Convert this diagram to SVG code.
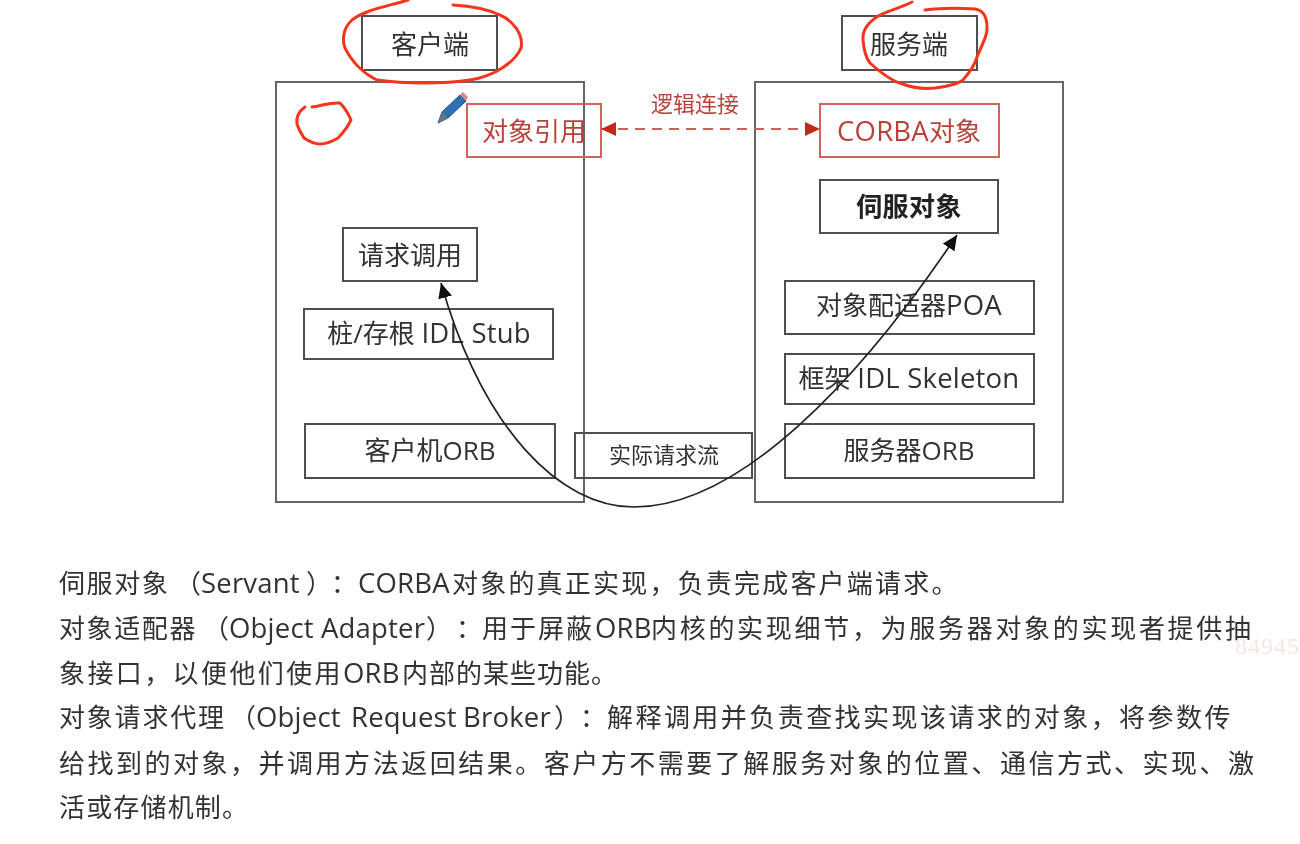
<svg xmlns="http://www.w3.org/2000/svg" width="1300" height="844" viewBox="0 0 1300 844">
<style>
text{font-family:"Open Sans","Noto Sans CJK SC",sans-serif;fill:#333;font-size:26px}
.c{text-anchor:middle}
.w{letter-spacing:.4px}
.l{font-size:27.5px;letter-spacing:.2px}
.b{fill:#fff;fill-opacity:0;stroke:#505050;stroke-width:2}
.o{fill:none;stroke:#666;stroke-width:2}
.r{fill:none;stroke:#d2625c;stroke-width:2}
.rt{fill:#b8433b}
.ink{fill:none;stroke:#f2361f;stroke-width:3;stroke-linecap:round;stroke-linejoin:round}
.sm{font-size:22px}
</style>
<defs>
<filter id="soft" x="0" y="0" width="100%" height="100%"><feGaussianBlur stdDeviation="0.5"/></filter>
<marker id="ra" markerWidth="16" markerHeight="14" refX="15" refY="7" orient="auto-start-reverse" markerUnits="userSpaceOnUse"><path d="M0 0L15 7L0 14z" fill="#c0291c"/></marker>
<marker id="ka" markerWidth="16" markerHeight="14" refX="15" refY="7" orient="auto" markerUnits="userSpaceOnUse"><path d="M0 0L15 7L0 14z" fill="#111"/></marker>
</defs>
<rect width="1300" height="844" fill="#fff"/>
<g filter="url(#soft)">
<g id="client-outer"><rect class="o" x="276" y="82" width="308" height="420"/></g>
<g id="server-outer"><rect class="o" x="755" y="82" width="308" height="420"/></g>
<g id="client-title"><rect class="b" x="362" y="16" width="135" height="54"/><text class="c" x="430" y="54">客户端</text></g>
<g id="server-title"><rect class="b" x="842" y="16" width="135" height="54"/><text class="c" x="909" y="54">服务端</text></g>
<g id="object-ref"><rect class="r" x="467" y="104" width="134" height="53"/><text class="c rt" x="534" y="141">对象引用</text></g>
<g id="corba-object"><rect class="r" x="820" y="104" width="179" height="53"/><text class="c rt" x="909" y="141"><tspan class="l">CORBA</tspan>对象</text></g>
<g id="servant"><rect class="b" x="820" y="180" width="178" height="53"/><text class="c w" x="909" y="216" font-weight="700" style="fill:#222">伺服对象</text></g>
<g id="request-call"><rect class="b" x="343" y="228" width="134" height="53"/><text class="c" x="410" y="265">请求调用</text></g>
<g id="stub"><rect class="b" x="304" y="309" width="249" height="50"/><text class="c" x="429" y="343">桩/存根 <tspan class="l">IDL Stub</tspan></text></g>
<g id="client-orb"><rect class="b" x="305" y="424" width="250" height="54"/><text class="c" x="430" y="460">客户机ORB</text></g>
<g id="actual-flow"><rect class="b" x="575" y="433" width="177" height="45"/><text class="c sm" x="664" y="463">实际请求流</text></g>
<g id="poa"><rect class="b" x="785" y="281" width="249" height="53"/><text class="c" x="909" y="315">对象配适器<tspan class="l">POA</tspan></text></g>
<g id="skeleton"><rect class="b" x="785" y="354" width="249" height="50"/><text class="c" x="909" y="388">框架 <tspan class="l">IDL Skeleton</tspan></text></g>
<g id="server-orb"><rect class="b" x="785" y="424" width="249" height="54"/><text class="c" x="909" y="460">服务器ORB</text></g>
<g id="connectors">
<path d="M601 129H820" fill="none" stroke="#c9625c" stroke-width="1.8" stroke-dasharray="10 7" marker-start="url(#ra)" marker-end="url(#ra)"/>
<path d="M634 507C560 507 483 430 441 283" fill="none" stroke="#222" stroke-width="1.7" marker-end="url(#ka)"/>
<path d="M634 507C740 507 860 380 957 235" fill="none" stroke="#222" stroke-width="1.7" marker-end="url(#ka)"/>
</g>
<text class="c rt sm" x="695" y="112">逻辑连接</text>
<g id="annotations">
<path class="ink" d="M408 0C385 7 365 10 352 20C343 28 342 40 345 48C352 62 364 74 377 80C405 84 445 84 470 80C495 76 515 62 521 48C524 34 512 20 500 15C485 8 470 6 453 5"/>
<path class="ink" d="M912 2C900 8 888 11 880 15C868 22 862 30 863 40C864 52 866 58 870 63C880 72 890 80 900 83C912 88 925 89 935 88C950 86 958 84 963 80C970 72 975 64 977 57C983 42 988 35 987 25C986 14 982 10 975 9C958 8 940 8 925 10"/>
<path class="ink" d="M305 107C298 112 296 118 297 124C299 131 302 134 304 138C310 142 315 144 320 144C328 144 333 141 338 138C344 132 348 126 351 120C348 113 344 107 340 103C332 102 320 106 312 107"/>
<g id="pen"><path d="M438 123L442 112L460 95L466 101L448 118Z" fill="#2f6fb5" stroke="#1f4d85" stroke-width="1"/><path d="M438 123L442 112L448 118Z" fill="#6b7480"/><path d="M460 95L463 92L468 97L466 101Z" fill="#d98a8a"/></g>
</g>
<g id="notes">
<text y="593"><tspan x="59" letter-spacing="1.6">伺服对象</tspan><tspan x="175">（</tspan><tspan class="l" x="201">Servant</tspan><tspan x="306">）</tspan><tspan x="331">：</tspan><tspan class="l" x="358">CORBA</tspan><tspan x="452" letter-spacing="2.2">对象的真正实现，负责完成客户端请求。</tspan></text>
<text y="638"><tspan x="59" letter-spacing="1.6">对象适配器</tspan><tspan x="203">（</tspan><tspan class="l" x="229">Object </tspan><tspan class="l" x="321">Adapter</tspan><tspan x="426">）</tspan><tspan x="456">：</tspan><tspan x="482" letter-spacing="2">用于屏蔽</tspan><tspan class="l" x="595">ORB</tspan><tspan x="651" letter-spacing="2.7">内核的实现细节，为服务器对象的实现者提供抽</tspan></text>
<text y="683"><tspan x="59" letter-spacing="2.4">象接口，以便他们使用</tspan><tspan class="l" x="343">ORB</tspan><tspan x="402" letter-spacing="1">内部的某些功能。</tspan></text>
<text y="727"><tspan x="59" letter-spacing="1.8">对象请求代理</tspan><tspan x="230">（</tspan><tspan class="l" x="256">Object </tspan><tspan class="l" x="351" letter-spacing="0">Request </tspan><tspan class="l" x="463" letter-spacing="0">Broker</tspan><tspan x="554">）</tspan><tspan x="580">：</tspan><tspan x="607" letter-spacing="2.45">解释调用并负责查找实现该请求的对象，将参数传</tspan></text>
<text x="59" y="773" textLength="1195" lengthAdjust="spacing">给找到的对象，并调用方法返回结果。客户方不需要了解服务对象的位置、通信方式、实现、激</text>
<text x="59" y="817" textLength="189" lengthAdjust="spacing">活或存储机制。</text>
<text x="1235" y="654" style="font-family:'Liberation Serif',serif;font-size:24px;fill:#f7e4e4;letter-spacing:1px">84945</text>
</g>
</g>
</svg>
